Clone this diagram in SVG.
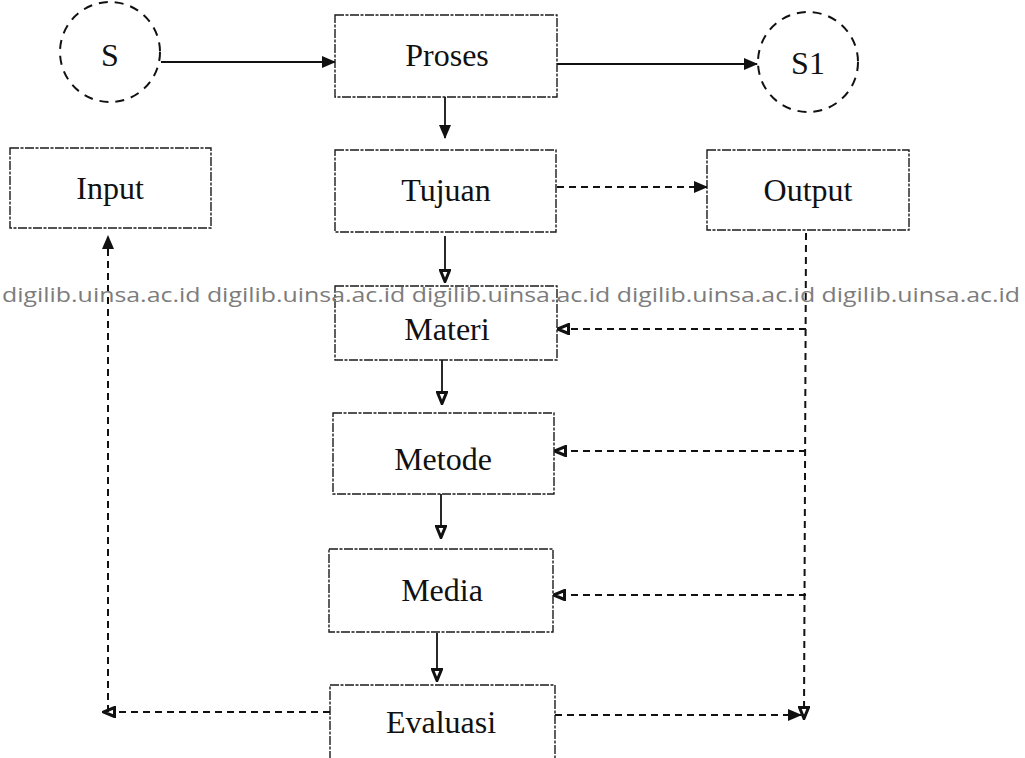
<svg xmlns="http://www.w3.org/2000/svg" width="1025" height="758" viewBox="0 0 1025 758">
  <style>
    .box { fill: #ffffff; stroke: #1a1a1a; stroke-width: 1.4; stroke-dasharray: 9 1.5 3 1.5; }
    .circ { fill: none; stroke: #111; stroke-width: 2; stroke-dasharray: 9 7; }
    .lbl { font-family: "Liberation Serif", "Times New Roman", serif; font-size: 32px; fill: #111; text-anchor: middle; }
    .solid { fill: none; stroke: #111; stroke-width: 1.8; }
    .dash { fill: none; stroke: #111; stroke-width: 2; stroke-dasharray: 7 5; }
    .mark { font-family: "Open Sans", "Liberation Sans", sans-serif; font-size: 20px; fill: #7c7c7c; }
  </style>
  <defs>
    <marker id="head" viewBox="0 0 14 12" refX="13" refY="6" markerWidth="14" markerHeight="12" markerUnits="userSpaceOnUse" orient="auto">
      <path d="M0,0 L14,6 L0,12 Z" fill="#111"/>
    </marker>
    <marker id="headOpen" viewBox="0 0 14 12" refX="13" refY="6" markerWidth="14" markerHeight="12" markerUnits="userSpaceOnUse" orient="auto">
      <path d="M1.5,1.5 L12.5,6 L1.5,10.5 Z" fill="#fff" stroke="#111" stroke-width="3"/>
    </marker>
  </defs>

  <rect width="1025" height="758" fill="#ffffff"/>

  <!-- connectors -->
  <g id="connectors">
    <line class="solid" x1="161" y1="62" x2="335" y2="62" marker-end="url(#head)"/>
    <line class="solid" x1="557" y1="64" x2="757" y2="64" marker-end="url(#head)"/>
    <line class="solid" x1="445" y1="97" x2="445" y2="138" marker-end="url(#head)"/>
    <line class="solid" x1="445" y1="236" x2="445" y2="282" marker-end="url(#headOpen)"/>
    <line class="solid" x1="442" y1="355" x2="442" y2="404" marker-end="url(#headOpen)"/>
    <line class="solid" x1="441" y1="475" x2="441" y2="538" marker-end="url(#headOpen)"/>
    <line class="solid" x1="437" y1="633" x2="437" y2="681" marker-end="url(#headOpen)"/>
    <line class="dash" x1="557" y1="187" x2="707" y2="187" marker-end="url(#head)"/>
    <line class="dash" x1="806" y1="233" x2="804" y2="719" marker-end="url(#headOpen)"/>
    <line class="dash" x1="806" y1="329" x2="557" y2="329" marker-end="url(#headOpen)"/>
    <line class="dash" x1="806" y1="451" x2="554" y2="451" marker-end="url(#headOpen)"/>
    <line class="dash" x1="806" y1="595" x2="553" y2="595" marker-end="url(#headOpen)"/>
    <line class="dash" x1="555" y1="715" x2="801" y2="715" marker-end="url(#head)"/>
    <line class="dash" x1="330" y1="712" x2="103" y2="712" marker-end="url(#headOpen)"/>
    <line class="dash" x1="108" y1="712" x2="108" y2="236" marker-end="url(#head)"/>
  </g>

  <!-- nodes -->
  <g id="node-s">
    <circle class="circ" cx="110" cy="52" r="50"/>
    <text class="lbl" x="110" y="66">S</text>
  </g>
  <g id="node-s1">
    <circle class="circ" cx="808" cy="62" r="50"/>
    <text class="lbl" x="808" y="74">S1</text>
  </g>
  <g id="node-proses">
    <rect class="box" x="335" y="15" width="222" height="82"/>
    <text class="lbl" x="447" y="66">Proses</text>
  </g>
  <g id="node-input">
    <rect class="box" x="10" y="148" width="201" height="80"/>
    <text class="lbl" x="110" y="199">Input</text>
  </g>
  <g id="node-tujuan">
    <rect class="box" x="335" y="150" width="221" height="82"/>
    <text class="lbl" x="446" y="201">Tujuan</text>
  </g>
  <g id="node-output">
    <rect class="box" x="707" y="150" width="202" height="80"/>
    <text class="lbl" x="808" y="201">Output</text>
  </g>
  <g id="node-materi">
    <rect class="box" x="335" y="286" width="222" height="74"/>
    <text class="lbl" x="447" y="340">Materi</text>
  </g>
  <g id="node-metode">
    <rect class="box" x="333" y="413" width="221" height="81"/>
    <text class="lbl" x="443" y="470">Metode</text>
  </g>
  <g id="node-media">
    <rect class="box" x="329" y="549" width="224" height="83"/>
    <text class="lbl" x="442" y="601">Media</text>
  </g>
  <g id="node-evaluasi">
    <rect class="box" x="330" y="685" width="225" height="90"/>
    <text class="lbl" x="441" y="733">Evaluasi</text>
  </g>

  <!-- repository watermark line -->
  <text class="mark" x="2" y="302" textLength="1018" lengthAdjust="spacingAndGlyphs" xml:space="preserve">digilib.uinsa.ac.id digilib.uinsa.ac.id digilib.uinsa.ac.id digilib.uinsa.ac.id digilib.uinsa.ac.id</text>
</svg>
